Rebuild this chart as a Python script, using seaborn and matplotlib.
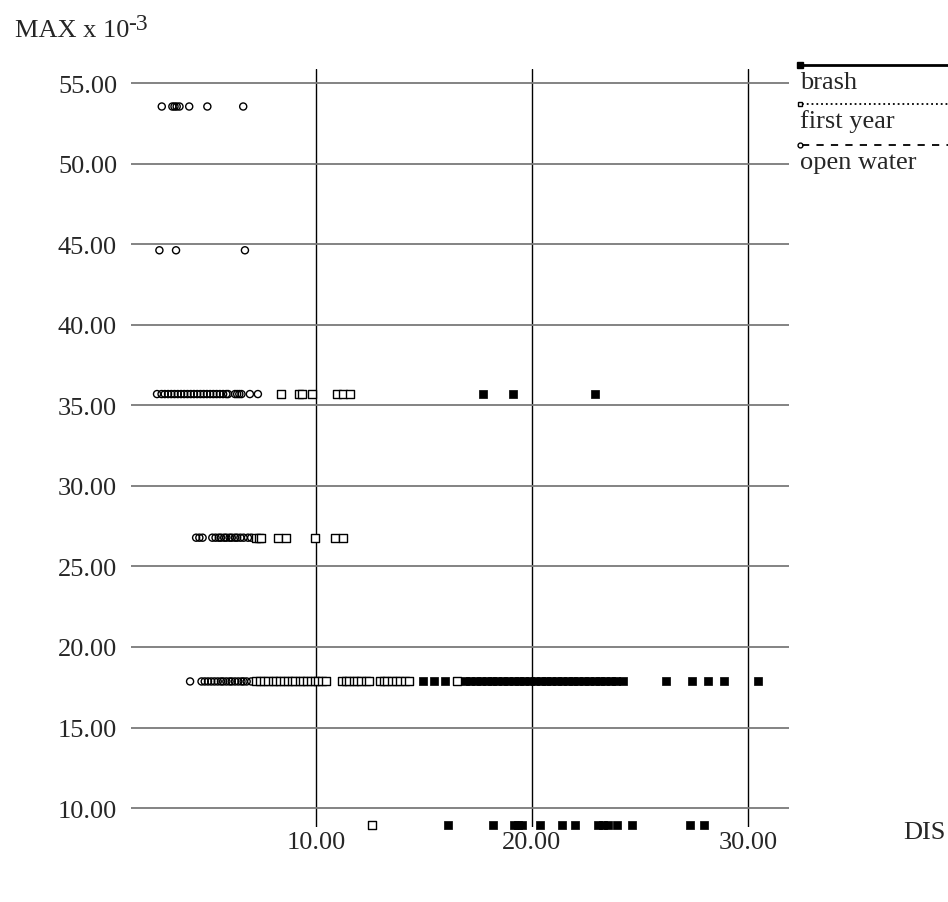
import matplotlib
matplotlib.use("Agg")
import matplotlib.pyplot as plt
from matplotlib.lines import Line2D
import seaborn as sns
import numpy as np
import pandas as pd

# y levels (MAX x 10^-3)
L1, L2, L3, L4, L5, L6 = 8.93, 17.86, 26.79, 35.71, 44.64, 53.57

# open water (circles), DIS values per level
ow_53 = [2.86, 3.35, 3.45, 3.55, 3.68, 4.13, 4.97, 6.63]
ow_44 = [2.75, 3.52, 6.71]
ow_35 = [2.64, 2.85, 3.0, 3.15, 3.3, 3.45, 3.6, 3.75, 3.9, 4.05, 4.2, 4.35, 4.5,
         4.65, 4.8, 4.95, 5.1, 5.25, 5.4, 5.55, 5.7, 5.85, 5.93,
         6.25, 6.35, 6.45, 6.55, 6.94, 7.31]
ow_26 = [4.45, 4.6, 4.75, 5.2, 5.35, 5.5, 5.6, 5.75, 5.85, 6.0, 6.1, 6.25, 6.35,
         6.5, 6.65, 6.85, 7.0]
ow_17 = [4.17, 4.7, 4.85, 5.0, 5.15, 5.3, 5.45, 5.6, 5.7, 5.85, 6.0, 6.1, 6.25,
         6.4, 6.55, 6.65, 6.79, 7.0]

# first year (open squares)
fy_35 = [8.38, 9.21, 9.35, 9.81, 10.97, 11.25, 11.57]
fy_26 = [7.2, 7.35, 7.45, 8.25, 8.6, 9.95, 10.88, 11.25]
fy_17 = [7.2, 7.4, 7.6, 7.8, 8.0, 8.15, 8.35, 8.5, 8.7, 8.9, 9.05, 9.25, 9.4,
         9.6, 9.75, 9.95, 10.1, 10.3, 10.45, 11.2, 11.4, 11.55, 11.75, 11.9,
         12.1, 12.3, 12.45, 12.95, 13.15, 13.3, 13.5, 13.7, 13.9, 14.1, 14.3, 16.55]
fy_8 = [12.59]

# brash (filled squares)
br_35 = [17.73, 19.12, 22.92]
br_17 = [14.95, 15.45, 15.95, 16.9, 17.15, 17.4, 17.65, 17.9, 18.15, 18.4, 18.65,
         18.9, 19.15, 19.4, 19.65, 19.9, 20.15, 20.4, 20.65, 20.9, 21.15, 21.4,
         21.65, 21.9, 22.15, 22.4, 22.65, 22.9, 23.15, 23.4, 23.65, 23.9, 24.2,
         26.19, 27.42, 28.16, 28.9, 30.48]
br_8 = [16.11, 18.18, 19.17, 19.35, 19.52, 20.37, 21.37, 21.98, 23.07, 23.3,
        23.5, 23.94, 24.63, 27.3, 27.95]

x_ticks = [10, 20, 30]
y_ticks = [10, 15, 20, 25, 30, 35, 40, 45, 50, 55]


def frame(rows):
    xs, ys = [], []
    for level, vals in rows:
        xs += vals
        ys += [level] * len(vals)
    return pd.DataFrame({"DIS": xs, "MAX": ys})


open_water = frame([(L6, ow_53), (L5, ow_44), (L4, ow_35), (L3, ow_26), (L2, ow_17)])
first_year = frame([(L4, fy_35), (L3, fy_26), (L2, fy_17), (L1, fy_8)])
brash = frame([(L4, br_35), (L2, br_17), (L1, br_8)])

sns.set_style("white")
plt.rcParams['font.family'] = ['Liberation Serif', 'DejaVu Serif']

W, H = 948, 903
fig = plt.figure(figsize=(W / 100, H / 100), dpi=100)
ax = fig.add_axes([131 / W, 1 - 828 / H, (789 - 131) / W, (828 - 70) / H])

sns.scatterplot(data=open_water, x="DIS", y="MAX", marker="o", s=26,
                facecolor="none", edgecolor="black", linewidth=1.0,
                ax=ax, legend=False, clip_on=False, zorder=3)
sns.scatterplot(data=first_year, x="DIS", y="MAX", marker="s", s=28,
                facecolor="white", edgecolor="black", linewidth=1.0,
                ax=ax, legend=False, clip_on=False, zorder=4)
sns.scatterplot(data=brash, x="DIS", y="MAX", marker="s", s=28,
                facecolor="black", edgecolor="black", linewidth=0.5,
                ax=ax, legend=False, clip_on=False, zorder=5)

ax.set_xlim(1.435, 31.9)
ax.set_ylim(8.82, 55.9)
ax.set_xticks(x_ticks)
ax.set_yticks(y_ticks)
ax.set_xticklabels([f"{v:.2f}" for v in x_ticks], fontsize=19)
ax.set_yticklabels([f"{v:.2f}" for v in y_ticks], fontsize=19)
ax.tick_params(axis="both", length=0)
ax.tick_params(axis="y", pad=10)
ax.tick_params(axis="x", pad=3)
ax.yaxis.grid(True, color="#7a7a7a", lw=1.3)
ax.xaxis.grid(True, color="black", lw=1.0)
ax.set_axisbelow(True)
for s in ax.spines.values():
    s.set_visible(False)
ax.set_xlabel("")
ax.set_ylabel("")

# axis titles: "MAX x 10" with a raised "-3"
fig.text(15 / W, 1 - 37 / H, "MAX x 10", fontsize=19, va="baseline")
fig.text(128 / W, 1 - 30 / H, "-3", fontsize=17, va="baseline")
fig.text(903 / W, 1 - 833 / H, "DIS", fontsize=19, va="center")

# legend drawn by hand: line above label, marker at left end
legend_items = [
    ("brash", 66, "-", 2.0, "s", "black", 5),
    ("first year", 105, ":", 1.3, "s", "white", 3.5),
    ("open water", 146, (0, (4, 4)), 1.3, "o", "none", 3.5),
]
for label, ypx, ls, lw, mk, fc, ms in legend_items:
    yf = 1 - ypx / H
    fig.add_artist(Line2D([802 / W, 1.0], [yf, yf], color="black", ls=ls, lw=lw))
    fig.add_artist(Line2D([800 / W], [yf], marker=mk, ms=ms, mfc=fc, mec="black",
                          mew=1.0, ls="none"))
    fig.text(800 / W, 1 - (ypx + 23) / H, label, fontsize=19, va="baseline")

fig.savefig("out.png", dpi=100)
plt.close(fig)
